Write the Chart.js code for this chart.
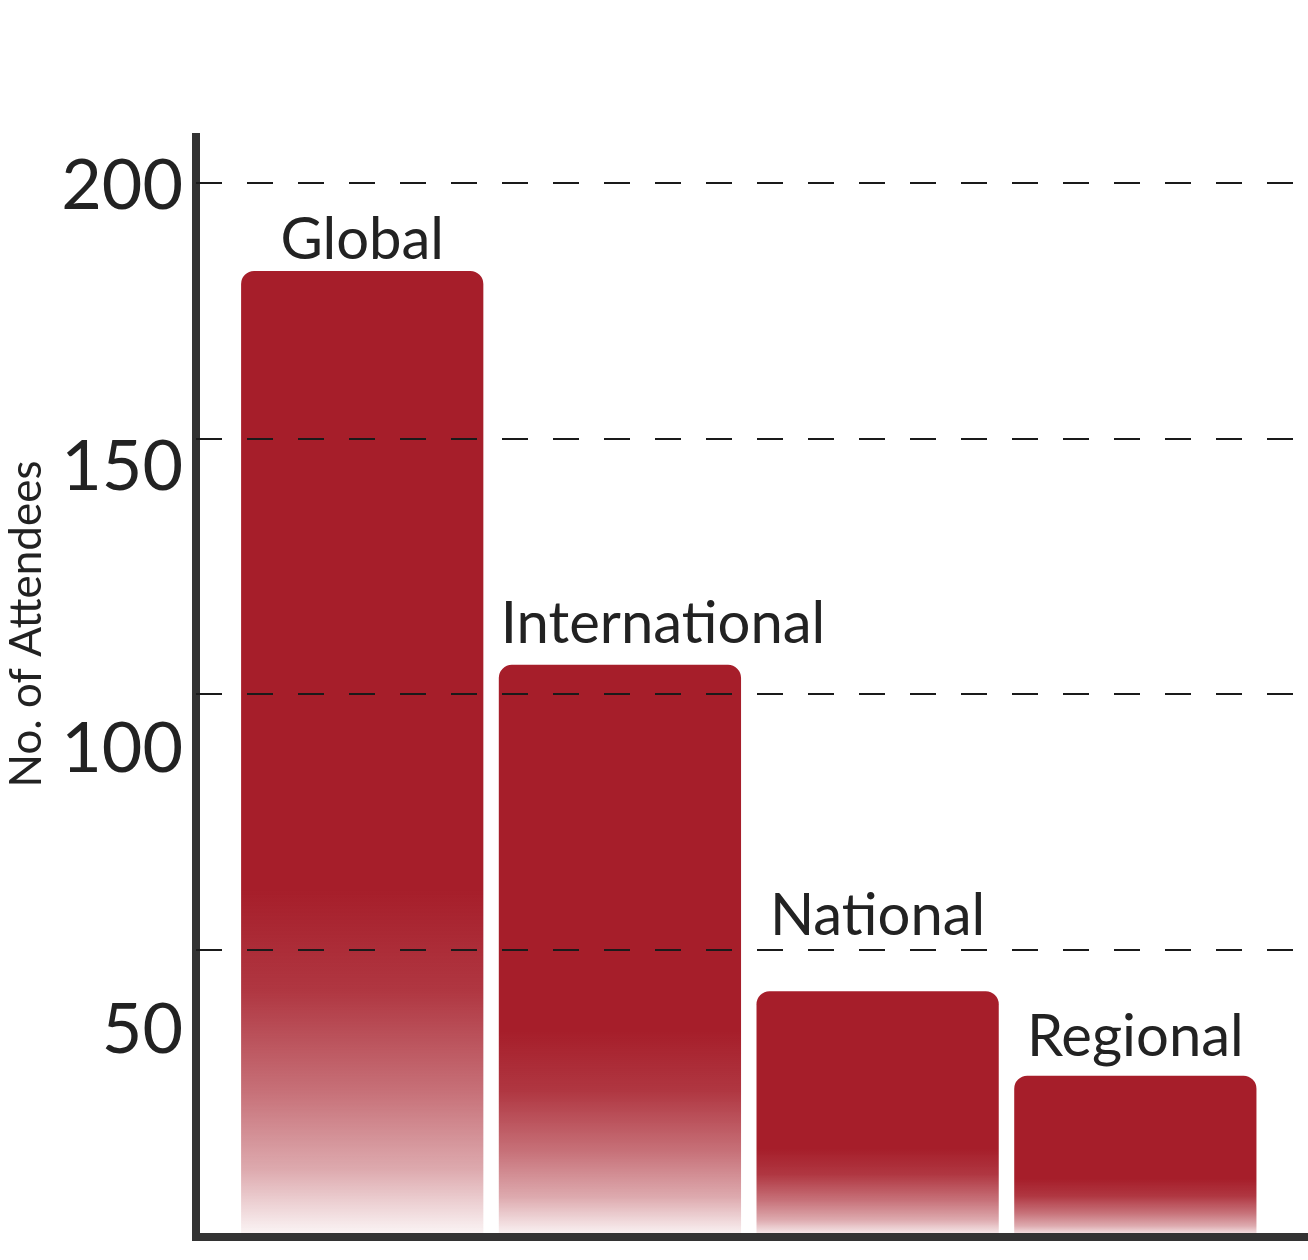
<!DOCTYPE html>
<html>
<head>
<meta charset="utf-8">
<title>No. of Attendees</title>
<script src="https://cdn.jsdelivr.net/npm/chart.js@4.4.1/dist/chart.umd.min.js"></script>
<style>
    html, body { margin: 0; padding: 0; background: #fff; }
    #wrap { width: 1308px; height: 1260px; }
</style>
</head>
<body>
<div id="wrap"><canvas id="attendeesChart"></canvas></div>
<script>
// chart data
const categories = ['Global', 'International', 'National', 'Regional'];
const attendees = [185, 115, 57, 42];
const tickValues = [50, 100, 150, 200];

const barRed = [166, 30, 42];
const textColor = '#222222';
const axisColor = '#333333';

// fade of each bar: [position from top of bar, opacity]
const fadeStops = [[0, 1], [0.64, 1], [0.745, 0.89], [0.85, 0.63], [0.93, 0.38], [1, 0.03]];

function rgba(a) {
    return 'rgba(' + barRed[0] + ',' + barRed[1] + ',' + barRed[2] + ',' + a + ')';
}

function barGradient(context) {
    const chart = context.chart;
    const area = chart.chartArea;
    if (!area || context.type !== 'data') {
        return rgba(1);
    }
    const top = chart.scales.y.getPixelForValue(context.parsed.y);
    const g = chart.ctx.createLinearGradient(0, top, 0, area.bottom);
    fadeStops.forEach(s => g.addColorStop(s[0], rgba(s[1])));
    return g;
}

// labels above the bars (wide labels start at the bar's left edge)
const barLabels = {
    id: 'barLabels',
    afterDatasetsDraw(chart, args, opts) {
        const ctx = chart.ctx;
        const meta = chart.getDatasetMeta(0);
        ctx.save();
        ctx.font = opts.font;
        ctx.fillStyle = opts.color;
        ctx.textBaseline = 'alphabetic';
        meta.data.forEach((bar, i) => {
            const text = categories[i];
            const w = ctx.measureText(text).width;
            let x = bar.x;
            ctx.textAlign = 'center';
            if (w > bar.width) {
                ctx.textAlign = 'left';
                x = bar.x - bar.width / 2 + 2;
            }
            ctx.fillText(text, x, bar.y - opts.gaps[i]);
        });
        ctx.restore();
    }
};

// rotated axis title, placed a bit above the middle like the original
const sideTitle = {
    id: 'sideTitle',
    afterDraw(chart, args, opts) {
        const ctx = chart.ctx;
        ctx.save();
        ctx.translate(opts.x, opts.y);
        ctx.rotate(-Math.PI / 2);
        ctx.font = opts.font;
        ctx.fillStyle = opts.color;
        ctx.textAlign = 'center';
        ctx.textBaseline = 'middle';
        ctx.fillText(opts.text, 0, 0);
        ctx.restore();
    }
};

function drawChart() {
    const ctx = document.getElementById('attendeesChart').getContext('2d');
    const attendeesChart = new Chart(ctx, {
        type: 'bar',
        data: {
            datasets: [{
                label: 'No. of Attendees',
                data: categories.map((c, i) => ({ x: i, y: attendees[i] })),
                backgroundColor: barGradient,
                borderWidth: 0,
                borderRadius: 13,
                categoryPercentage: 1,
                barPercentage: 0.94
            }]
        },
        options: {
            responsive: true,
            maintainAspectRatio: false,
            animation: false,
            layout: {
                padding: { top: 137, bottom: 23, left: 0, right: 0 }
            },
            plugins: {
                legend: { display: false },
                tooltip: { enabled: false },
                barLabels: {
                    font: '58px Lato',
                    color: textColor,
                    gaps: [12, 22, 56, 20]
                },
                sideTitle: {
                    text: 'No. of Attendees',
                    font: '44px Lato',
                    color: textColor,
                    x: 27,
                    y: 624
                }
            },
            scales: {
                x: {
                    type: 'linear',
                    offset: false,
                    bounds: 'data',
                    min: -0.645,
                    max: 3.67,
                    afterBuildTicks(scale) {
                        scale.ticks = categories.map((c, i) => ({ value: i }));
                    },
                    ticks: { display: false },
                    grid: { display: false, offset: false },
                    border: { display: true, color: axisColor, width: 8, z: 1 },
                    afterFit(scale) {
                        scale.height = 0;
                        scale.paddingLeft = 0;
                        scale.paddingRight = 0;
                    }
                },
                y: {
                    position: 'left',
                    min: 13.33,
                    max: 208.8,
                    afterBuildTicks(scale) {
                        scale.ticks = tickValues.map(v => ({ value: v }));
                    },
                    ticks: {
                        color: textColor,
                        font: { family: 'Lato', size: 70 },
                        padding: 5
                    },
                    grid: { display: false },
                    border: { display: true, color: axisColor, width: 8 },
                    afterFit(scale) {
                        scale.width = 196;
                        scale.paddingTop = 0;
                        scale.paddingBottom = 0;
                    }
                },
                // dashed guide lines, drawn over the bars
                y2: {
                    position: 'right',
                    min: -6.12,
                    max: 209.0,
                    afterBuildTicks(scale) {
                        scale.ticks = tickValues.map(v => ({ value: v }));
                    },
                    ticks: { display: false },
                    grid: { color: '#1a1a1a', lineWidth: 2, drawTicks: false, z: 1 },
                    border: { display: false, dash: [26, 25] },
                    afterFit(scale) {
                        scale.width = 0;
                        scale.paddingTop = 0;
                        scale.paddingBottom = 0;
                    }
                }
            }
        },
        plugins: [barLabels, sideTitle]
    });
}

if (document.fonts && document.fonts.load) {
    Promise.all([
        document.fonts.load('70px Lato'),
        document.fonts.load('58px Lato')
    ]).then(drawChart, drawChart);
} else {
    drawChart();
}
</script>
</body>
</html>
